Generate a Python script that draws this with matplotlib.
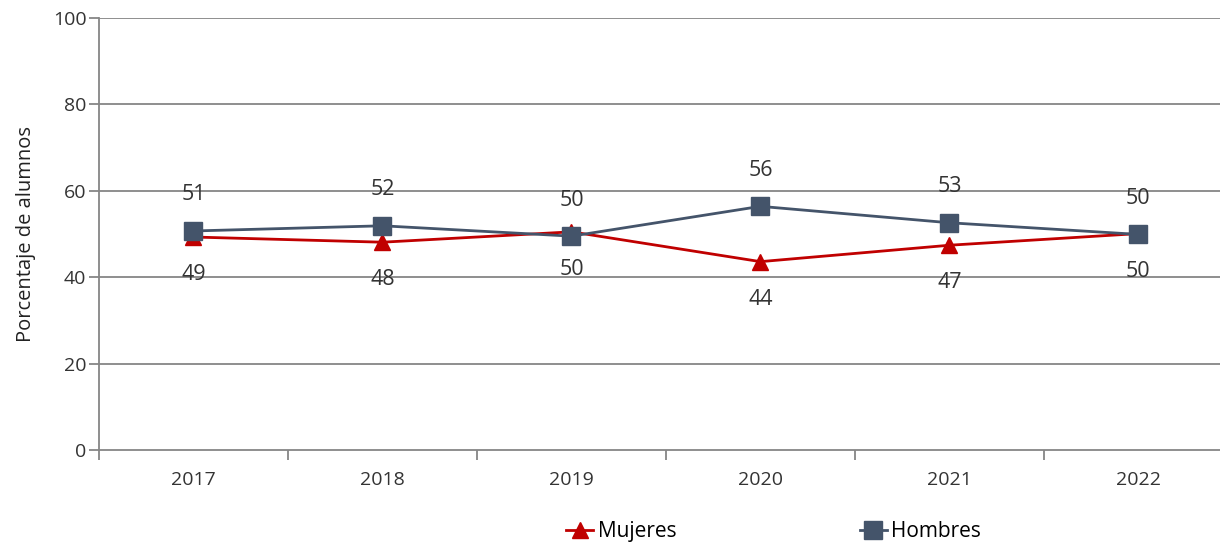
import numpy as np
import matplotlib.pyplot as plt

years = ['2017', '2018', '2019', '2020', '2021', '2022']
mujeres = [49.3, 48.1, 50.5, 43.6, 47.4, 50.1]
hombres = [50.7, 51.9, 49.5, 56.4, 52.6, 49.9]
lab_mujeres = ['49', '48', '50', '44', '47', '50']
lab_hombres = ['51', '52', '50', '56', '53', '50']

plt.rcParams['font.family'] = ['Open Sans', 'DejaVu Sans']

red = '#C00000'
blue = '#44546A'
grey = '#868686'

fig = plt.figure(figsize=(12.2, 5.45), dpi=100)
ax = fig.add_axes([0.0811, 0.1743, 0.9295, 0.7927])

x = np.arange(len(years))
ax.plot(x, mujeres, color=red, lw=2, marker='^', ms=11, label='Mujeres', zorder=3)
ax.plot(x, hombres, color=blue, lw=2, marker='s', ms=12.5, label='Hombres', zorder=4)

for i in range(len(x)):
  ax.annotate(lab_hombres[i], (x[i], hombres[i]), xytext=(0, 26), textcoords='offset points',
              ha='center', va='center', fontsize=15.5, color='#333333')
  ax.annotate(lab_mujeres[i], (x[i], mujeres[i]), xytext=(0, -27), textcoords='offset points',
              ha='center', va='center', fontsize=15.5, color='#333333')

ax.set_xlim(-0.5, 5.5)
ax.set_ylim(0, 100)
ax.set_yticks([0, 20, 40, 60, 80, 100])
for yy in [20, 40, 60, 80, 100]:
  ax.axhline(yy, color=grey, lw=1.3, zorder=1)

ax.set_xticks(x)
ax.set_xticklabels(years, fontsize=14)
ax.set_xticks(np.arange(-0.5, 6, 1), minor=True)
ax.tick_params(axis='x', which='major', length=0, pad=15, colors='#333333')
ax.tick_params(axis='x', which='minor', length=7, width=1.3, color=grey)
ax.tick_params(axis='y', length=7, width=1.3, color=grey, labelsize=14, pad=2, labelcolor='#333333')

for s in ['top', 'right']:
  ax.spines[s].set_visible(False)
for s in ['left', 'bottom']:
  ax.spines[s].set_color(grey)
  ax.spines[s].set_linewidth(1.3)

ax.set_ylabel('Porcentaje de alumnos', fontsize=14.5, color='#222222', labelpad=12)

fig.legend(loc='center', bbox_to_anchor=(0.634, 0.024), ncol=2, frameon=False,
           fontsize=15, handlelength=1.3, handletextpad=0.2, columnspacing=8.8,
           borderaxespad=0)

plt.savefig('out.png', dpi=100)
